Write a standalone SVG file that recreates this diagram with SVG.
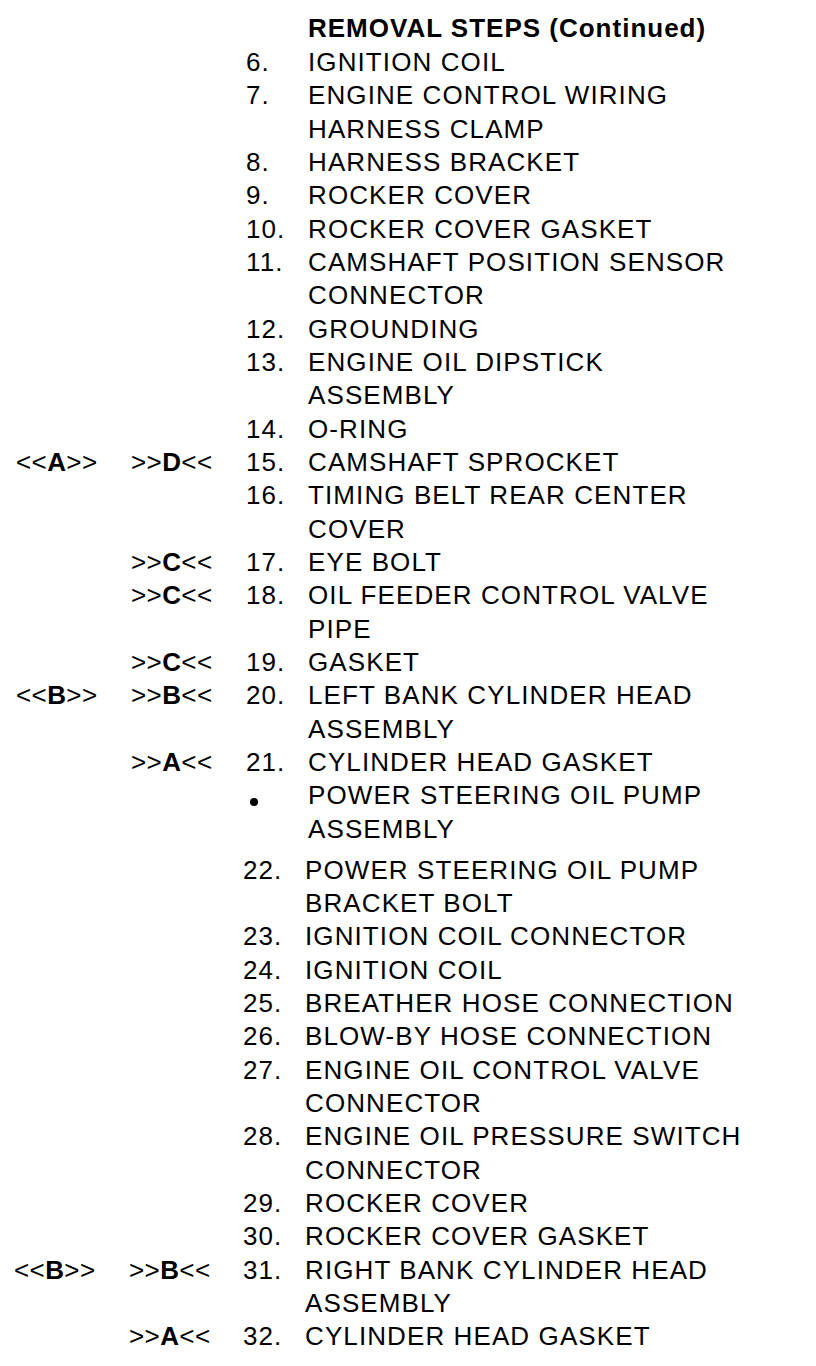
<svg xmlns="http://www.w3.org/2000/svg" width="816" height="1366" viewBox="0 0 816 1366">
<style>
text{font-family:"Liberation Sans",Arial,sans-serif;font-size:26px;fill:#000;letter-spacing:1.1px}
.t{font-weight:bold;letter-spacing:1px}
.m{letter-spacing:0.4px}
.b{font-weight:bold}
</style>
<rect width="816" height="1366" fill="#fff"/>
<g id="title"><text class="t" x="308" y="37">REMOVAL STEPS (Continued)</text></g>
<g id="upper">
<text x="246" y="71">6.</text><text x="308" y="71">IGNITION COIL</text>
<text x="246" y="104">7.</text><text x="308" y="104">ENGINE CONTROL WIRING</text>
<text x="308" y="138">HARNESS CLAMP</text>
<text x="246" y="171">8.</text><text x="308" y="171">HARNESS BRACKET</text>
<text x="246" y="204">9.</text><text x="308" y="204">ROCKER COVER</text>
<text x="246" y="238">10.</text><text x="308" y="238">ROCKER COVER GASKET</text>
<text x="246" y="271">11.</text><text x="308" y="271">CAMSHAFT POSITION SENSOR</text>
<text x="308" y="304">CONNECTOR</text>
<text x="246" y="338">12.</text><text x="308" y="338">GROUNDING</text>
<text x="246" y="371">13.</text><text x="308" y="371">ENGINE OIL DIPSTICK</text>
<text x="308" y="404">ASSEMBLY</text>
<text x="246" y="438">14.</text><text x="308" y="438">O-RING</text>
<text class="m" x="16" y="471">&lt;&lt;<tspan class="b">A</tspan>&gt;&gt;</text><text class="m" x="131" y="471">&gt;&gt;<tspan class="b">D</tspan>&lt;&lt;</text><text x="246" y="471">15.</text><text x="308" y="471">CAMSHAFT SPROCKET</text>
<text x="246" y="504">16.</text><text x="308" y="504">TIMING BELT REAR CENTER</text>
<text x="308" y="538">COVER</text>
<text class="m" x="131" y="571">&gt;&gt;<tspan class="b">C</tspan>&lt;&lt;</text><text x="246" y="571">17.</text><text x="308" y="571">EYE BOLT</text>
<text class="m" x="131" y="604">&gt;&gt;<tspan class="b">C</tspan>&lt;&lt;</text><text x="246" y="604">18.</text><text x="308" y="604">OIL FEEDER CONTROL VALVE</text>
<text x="308" y="638">PIPE</text>
<text class="m" x="131" y="671">&gt;&gt;<tspan class="b">C</tspan>&lt;&lt;</text><text x="246" y="671">19.</text><text x="308" y="671">GASKET</text>
<text class="m" x="16" y="704">&lt;&lt;<tspan class="b">B</tspan>&gt;&gt;</text><text class="m" x="131" y="704">&gt;&gt;<tspan class="b">B</tspan>&lt;&lt;</text><text x="246" y="704">20.</text><text x="308" y="704">LEFT BANK CYLINDER HEAD</text>
<text x="308" y="738">ASSEMBLY</text>
<text class="m" x="131" y="771">&gt;&gt;<tspan class="b">A</tspan>&lt;&lt;</text><text x="246" y="771">21.</text><text x="308" y="771">CYLINDER HEAD GASKET</text>
<circle cx="254" cy="802" r="4" fill="#000"/><text x="308" y="804">POWER STEERING OIL PUMP</text>
<text x="308" y="838">ASSEMBLY</text>
</g>
<g id="lower">
<text x="243" y="879">22.</text><text x="305" y="879">POWER STEERING OIL PUMP</text>
<text x="305" y="912">BRACKET BOLT</text>
<text x="243" y="945">23.</text><text x="305" y="945">IGNITION COIL CONNECTOR</text>
<text x="243" y="979">24.</text><text x="305" y="979">IGNITION COIL</text>
<text x="243" y="1012">25.</text><text x="305" y="1012">BREATHER HOSE CONNECTION</text>
<text x="243" y="1045">26.</text><text x="305" y="1045">BLOW-BY HOSE CONNECTION</text>
<text x="243" y="1079">27.</text><text x="305" y="1079">ENGINE OIL CONTROL VALVE</text>
<text x="305" y="1112">CONNECTOR</text>
<text x="243" y="1145">28.</text><text x="305" y="1145">ENGINE OIL PRESSURE SWITCH</text>
<text x="305" y="1179">CONNECTOR</text>
<text x="243" y="1212">29.</text><text x="305" y="1212">ROCKER COVER</text>
<text x="243" y="1245">30.</text><text x="305" y="1245">ROCKER COVER GASKET</text>
<text class="m" x="14" y="1279">&lt;&lt;<tspan class="b">B</tspan>&gt;&gt;</text><text class="m" x="129" y="1279">&gt;&gt;<tspan class="b">B</tspan>&lt;&lt;</text><text x="243" y="1279">31.</text><text x="305" y="1279">RIGHT BANK CYLINDER HEAD</text>
<text x="305" y="1312">ASSEMBLY</text>
<text class="m" x="129" y="1345">&gt;&gt;<tspan class="b">A</tspan>&lt;&lt;</text><text x="243" y="1345">32.</text><text x="305" y="1345">CYLINDER HEAD GASKET</text>
</g>
</svg>
